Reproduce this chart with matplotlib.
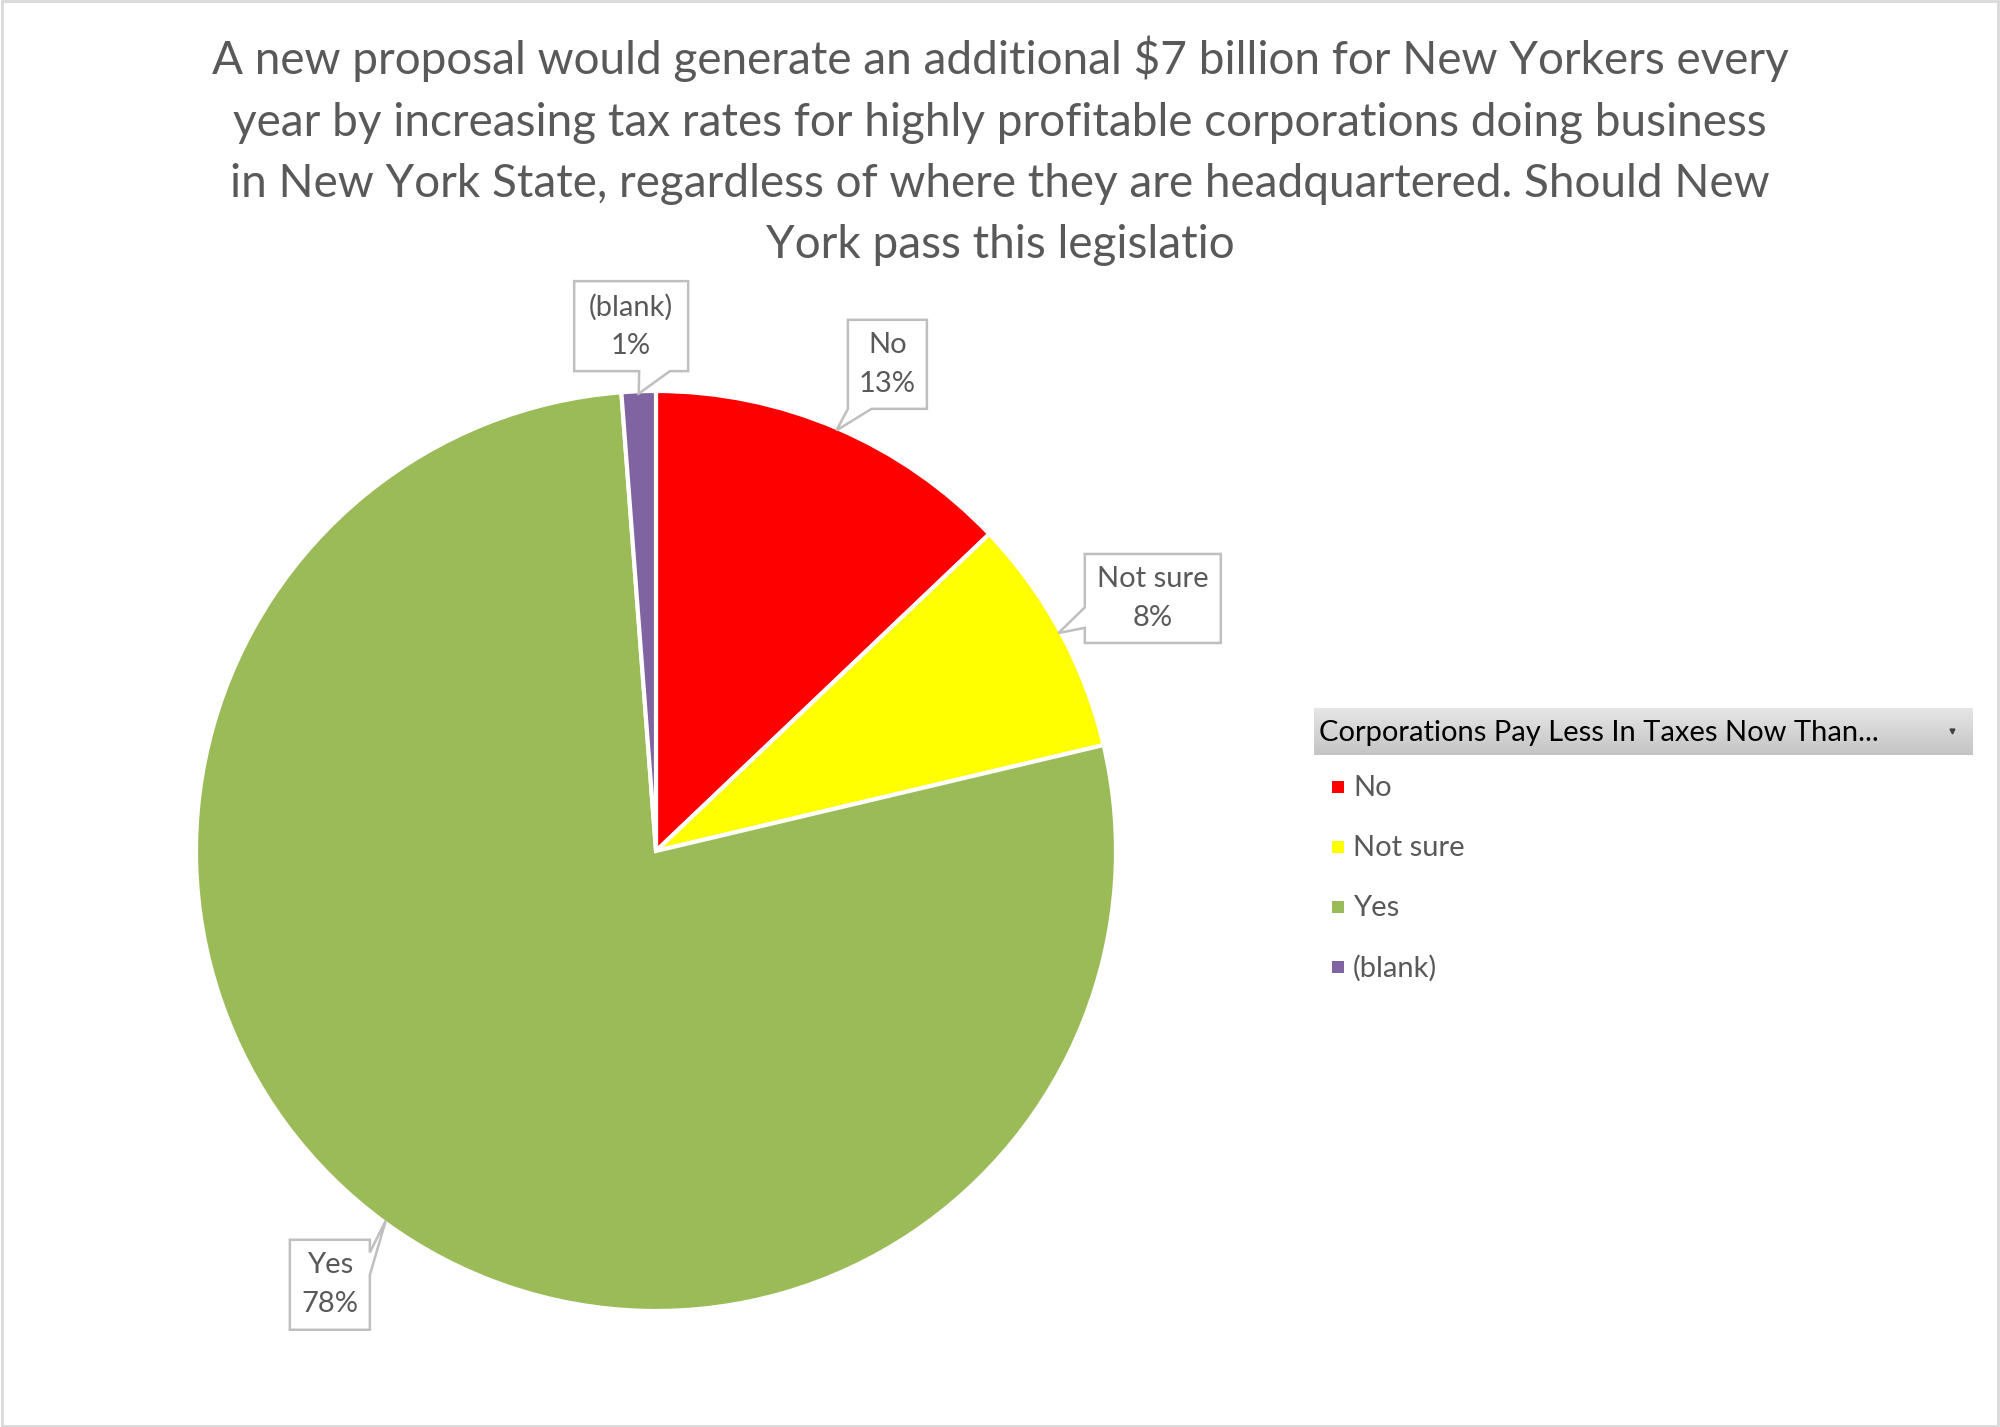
import matplotlib
matplotlib.use('Agg')
import matplotlib.pyplot as plt
import numpy as np
from matplotlib.patches import Polygon, Rectangle

categories = ['No', 'Not sure', 'Yes', '(blank)']
shares = [12.9, 8.4, 77.5, 1.2]
slice_colors = ['#FF0000', '#FFFF00', '#9BBB59', '#8064A2']
title = ('A new proposal would generate an additional \\$7 billion for New Yorkers every\n'
         'year by increasing tax rates for highly profitable corporations doing business\n'
         'in New York State, regardless of where they are headquartered. Should New\n'
         'York pass this legislatio')
legend_title = 'Corporations Pay Less In Taxes Now Than...'

# callout layout: box centre (pie units), box size (px), pointer side, pointer base fractions
callouts = {
    'No':       ((0.503, 1.058), (79, 89), 'bottom', (0.0, 0.30)),
    'Not sure': ((1.080, 0.549), (136, 89), 'left', (0.17, 0.40)),
    'Yes':      ((-0.709, -0.943), (80, 90), 'right', (0.61, 0.86)),
    '(blank)':  ((-0.054, 1.141), (114, 90), 'bottom', (0.57, 0.84)),
}

W, H = 2000, 1427
R_PX = 460.0
CX, CY = 656, 851
grey_txt = '#595959'
font = 'Lato'

fig = plt.figure(figsize=(W / 100, H / 100), dpi=100)

# pie axes: 1 data unit = R_PX pixels
x0, x1, y0, y1 = 150, 1300, 250, 1400
ax = fig.add_axes([x0 / W, (H - y1) / H, (x1 - x0) / W, (y1 - y0) / H])

wedges, _ = ax.pie(shares, colors=slice_colors, startangle=90, counterclock=False,
                   radius=1.0, center=(0, 0), frame=True,
                   wedgeprops=dict(edgecolor='white', linewidth=3))
ax.set_xlim((x0 - CX) / R_PX, (x1 - CX) / R_PX)
ax.set_ylim((CY - y1) / R_PX, (CY - y0) / R_PX)
ax.axis('off')

total = sum(shares)


def callout(ax, centre, size, side, base, tip, text):
    cx, cy = centre
    w, h = size[0] / R_PX, size[1] / R_PX
    l, r, b, t = cx - w / 2, cx + w / 2, cy - h / 2, cy + h / 2
    f0, f1 = base
    if side == 'bottom':
        pts = [(l, t), (r, t), (r, b), (l + f1 * w, b), tip, (l + f0 * w, b), (l, b)]
    elif side == 'left':
        pts = [(l, t), (r, t), (r, b), (l, b), (l, b + f0 * h), tip, (l, b + f1 * h)]
    else:
        pts = [(l, t), (r, t), (r, b + f1 * h), tip, (r, b + f0 * h), (r, b), (l, b)]
    ax.add_patch(Polygon(pts, closed=True, facecolor='white', edgecolor='#bfbfbf',
                         linewidth=1.8, zorder=5))
    ax.text(cx, cy, text, ha='center', va='center', fontsize=21, color=grey_txt,
            family=font, linespacing=1.6, zorder=6)


for wdg, cat, val in zip(wedges, categories, shares):
    mid = np.deg2rad((wdg.theta1 + wdg.theta2) / 2)
    tip = (0.995 * np.cos(mid), 0.995 * np.sin(mid))
    centre, size, side, base = callouts[cat]
    pct = int(round(100 * val / total))
    callout(ax, centre, size, side, base, tip, '%s\n%d%%' % (cat, pct))

# title
fig.text(1000 / W, 1 - 36 / H, title, ha='center', va='top', fontsize=33,
         color=grey_txt, family=font, linespacing=1.56)

# legend header with grey gradient
hx0, hx1, hy0, hy1 = 1314, 1973, 708, 755
hax = fig.add_axes([hx0 / W, (H - hy1) / H, (hx1 - hx0) / W, (hy1 - hy0) / H])
grad = np.linspace(0.90, 0.77, 50).reshape(-1, 1)
hax.imshow(np.dstack([grad, grad, grad]), aspect='auto', extent=(0, 1, 0, 1))
hax.set_xlim(0, 1)
hax.set_ylim(0, 1)
hax.axis('off')
hax.text(0.007, 0.47, legend_title, ha='left', va='center', fontsize=21,
         color='black', family=font)
hax.plot([0.968], [0.52], marker='v', markersize=3.5, color='#404040')

# legend entries
row_y = [787, 847, 907, 967]
for cat, col, yy in zip(categories, slice_colors, row_y):
    fig.patches.append(Rectangle(((1332) / W, (H - yy - 6) / H), 12 / W, 12 / H,
                                 transform=fig.transFigure, facecolor=col,
                                 edgecolor='none'))
    fig.text(1353 / W, 1 - (yy + 1) / H, cat, ha='left', va='center', fontsize=21,
             color=grey_txt, family=font)

# outer frame
fig.patches.append(Rectangle((0.001, 0.001), 0.998, 0.998, transform=fig.transFigure,
                             fill=False, edgecolor='#d9d9d9', linewidth=2))

fig.savefig('out.png', dpi=100)
